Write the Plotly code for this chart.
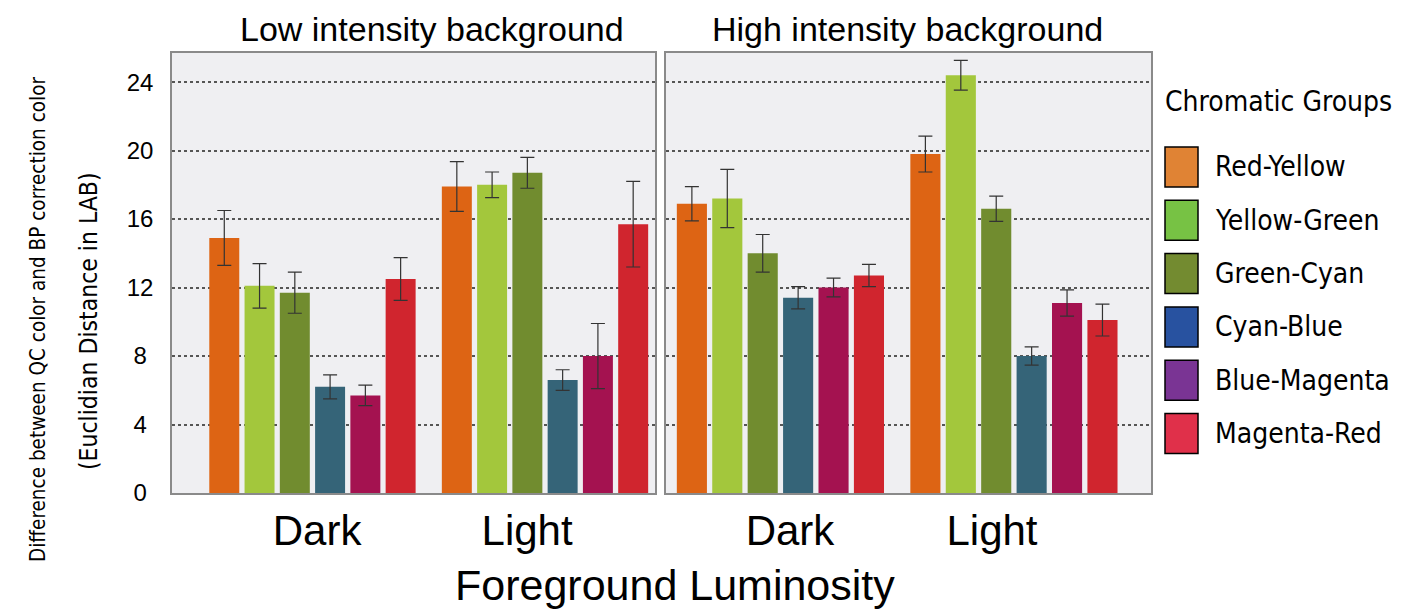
import plotly.graph_objects as go
from plotly.subplots import make_subplots

# ---------------- data ----------------
panels = ["Low intensity background", "High intensity background"]
luminosity = ["Dark", "Light"]
groups = ["Red-Yellow", "Yellow-Green", "Green-Cyan", "Cyan-Blue", "Blue-Magenta", "Magenta-Red"]

low_dark = [14.9, 12.1, 11.7, 6.2, 5.7, 12.5]
low_light = [17.9, 18.0, 18.7, 6.6, 8.0, 15.7]
high_dark = [16.9, 17.2, 14.0, 11.4, 12.0, 12.7]
high_light = [19.8, 24.4, 16.6, 8.0, 11.1, 10.1]

low_dark_err = [1.6, 1.3, 1.2, 0.7, 0.6, 1.25]
low_light_err = [1.45, 0.75, 0.9, 0.6, 1.9, 2.5]
high_dark_err = [1.0, 1.7, 1.1, 0.65, 0.55, 0.65]
high_light_err = [1.05, 0.87, 0.74, 0.53, 0.77, 0.93]

y_ticks = [0, 4, 8, 12, 16, 20, 24]

# ---------------- style ----------------
bar_colors = ["#DD6414", "#A3C73C", "#718C2F", "#356478", "#A41250", "#D0252E"]
legend_colors = ["#E08334", "#77C244", "#738B30", "#2852A0", "#7A3494", "#E0304A"]
panel_bg = "#EFEFF2"

OFF = 8  # default page body margin
W, H = 1410 - OFF, 611 - OFF
# plot-area edges in page pixels
L, R, T, B = 172, 1151, 53, 493

def px(x):
    return (x - L) / (R - L)

def py(y):
    return (B - y) / (B - T)

fig = make_subplots(rows=1, cols=2, shared_yaxes=True, horizontal_spacing=0.0)

panel_data = [
    (low_dark, low_light, low_dark_err, low_light_err),
    (high_dark, high_light, high_dark_err, high_light_err),
]
xpos = list(range(len(luminosity)))

for p, (dark, light, derr, lerr) in enumerate(panel_data):
    for i, g in enumerate(groups):
        fig.add_trace(
            go.Bar(
                x=xpos,
                y=[dark[i], light[i]],
                name=g,
                marker=dict(color=bar_colors[i], line=dict(width=0)),
                error_y=dict(type="data", array=[derr[i], lerr[i]], visible=True,
                             color="#333333", thickness=1.2, width=7),
                showlegend=False,
                offsetgroup=str(i),
            ),
            row=1, col=p + 1,
        )

fig.update_layout(
    width=W, height=H,
    margin=dict(l=L - OFF, r=W - (R - OFF), t=T - OFF, b=H - (B - OFF)),
    paper_bgcolor="white",
    plot_bgcolor=panel_bg,
    barmode="group",
    bargap=0.09,
    bargroupgap=0.15,
    font=dict(family="Liberation Sans, Arial, sans-serif", color="black"),
)

# x axes
fig.update_xaxes(domain=[0, px(655)], range=[-0.604, 1.473], row=1, col=1,
                 tickvals=[0.02, 0.923])
fig.update_xaxes(domain=[px(666), 1], range=[-0.49, 1.587], row=1, col=2,
                 tickvals=[0.041, 0.906])
fig.update_xaxes(
    ticktext=luminosity,
    showgrid=False, zeroline=False,
    showline=True, mirror=True, linecolor="#8a8a8a", linewidth=1.5,
    ticks="", tickfont=dict(size=42, family="Liberation Sans, Arial"),
    ticklabelstandoff=0,
)

# y axes
tick_text = [str(v) if v >= 10 else str(v) + "\u00a0" for v in y_ticks]
fig.update_yaxes(
    range=[0, 25.7],
    tickvals=y_ticks,
    ticktext=tick_text,
    showgrid=True, gridcolor="#555555", griddash="dot", gridwidth=2,
    zeroline=False,
    showline=True, mirror=True, linecolor="#8a8a8a", linewidth=1.5,
    ticks="", tickfont=dict(size=24, family="Liberation Sans, Arial"),
    ticklabelstandoff=12,
)
fig.update_yaxes(showticklabels=False, row=1, col=2)

ann = []
# panel titles
ann.append(dict(text=panels[0], x=px(432), y=py(OFF + 1), xref="paper", yref="paper",
                showarrow=False, xanchor="center", yanchor="top", borderpad=0,
                font=dict(size=34, family="Liberation Sans, Arial")))
ann.append(dict(text=panels[1], x=px(907), y=py(OFF + 1), xref="paper", yref="paper",
                showarrow=False, xanchor="center", yanchor="top", borderpad=0,
                font=dict(size=34, family="Liberation Sans, Arial")))
# x title
ann.append(dict(text="Foreground Luminosity", x=px(675), y=py(610), xref="paper", yref="paper",
                showarrow=False, xanchor="center", yanchor="bottom", borderpad=0,
                font=dict(size=43, family="Liberation Sans, Arial")))
# y title (two lines)
narrow = "DejaVu Sans Condensed, Liberation Sans Narrow, sans-serif"
ann.append(dict(text="Difference between QC color and BP correction color", x=px(38), y=py(320),
                xref="paper", yref="paper", showarrow=False, textangle=-90,
                xanchor="center", yanchor="middle", font=dict(size=20.5, family=narrow)))
ann.append(dict(text="(Euclidian Distance in LAB)", x=px(88), y=py(321),
                xref="paper", yref="paper", showarrow=False, textangle=-90,
                xanchor="center", yanchor="middle", font=dict(size=24.5, family=narrow)))
# legend title
ann.append(dict(text="Chromatic Groups", x=px(1163), y=py(102), xref="paper", yref="paper",
                showarrow=False, xanchor="left", yanchor="middle",
                font=dict(size=28, family=narrow)))

shapes = []
for i, g in enumerate(groups):
    yc = 167 + i * 53.3
    shapes.append(dict(type="rect", xref="paper", yref="paper",
                       x0=px(1165), x1=px(1198), y0=py(yc - 20), y1=py(yc + 20),
                       fillcolor=legend_colors[i], line=dict(color="black", width=1.5)))
    ann.append(dict(text=g, x=px(1213), y=py(yc), xref="paper", yref="paper",
                    showarrow=False, xanchor="left", yanchor="middle",
                    font=dict(size=28, family=narrow)))

fig.update_layout(annotations=ann, shapes=shapes)

fig.write_html("out.html")
